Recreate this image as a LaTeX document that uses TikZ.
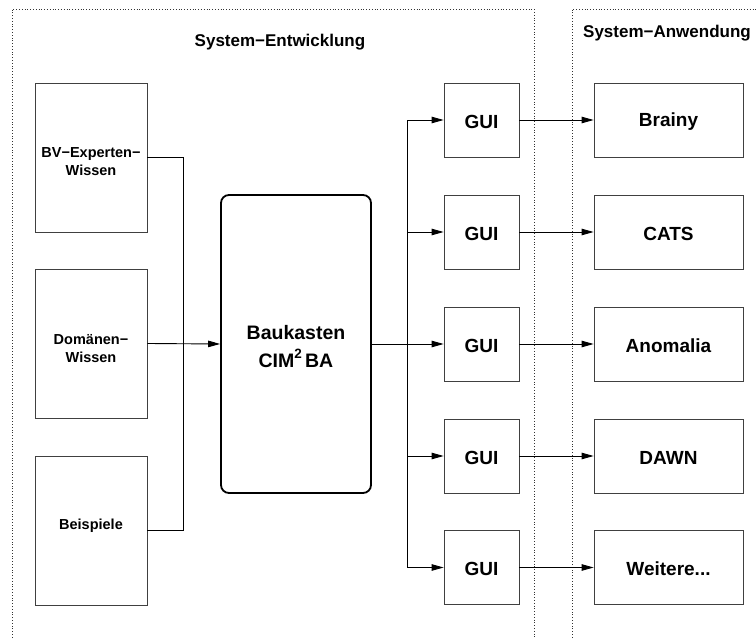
\documentclass[tikz,border=0pt]{standalone}
\usepackage{fontspec}
\setmainfont{Liberation Sans}
\usetikzlibrary{arrows.meta}
\newcommand{\furtherapps}{Weitere...}
\begin{document}
\begin{tikzpicture}[x=1pt,y=-1pt,
  every node/.style={font=\bfseries},
  frame/.style={draw=black!80,dotted,line width=0.8pt},
  srcbox/.style={draw=black!75,line width=0.8pt,minimum width=112pt,minimum height=149pt,
    align=center,inner sep=0pt,font=\bfseries\fontsize{14.5}{18}\selectfont},
  guibox/.style={draw=black!75,line width=0.8pt,minimum width=75pt,minimum height=74pt,
    inner sep=0pt,font=\bfseries\fontsize{19}{22}\selectfont},
  appbox/.style={draw=black!75,line width=0.8pt,minimum width=149pt,minimum height=74pt,
    inner sep=0pt,font=\bfseries\fontsize{19}{22}\selectfont},
  kitbox/.style={draw=black,line width=1.8pt,rounded corners=8pt,minimum width=150pt,
    minimum height=298pt,align=center,inner sep=0pt,font=\bfseries\fontsize{19.5}{28}\selectfont},
  title/.style={font=\bfseries\fontsize{17}{20}\selectfont},
  conn/.style={draw=black,line width=0.9pt},
  arr/.style={conn,-{Triangle[length=12pt,width=6.5pt]}}]
\useasboundingbox (0,0) rectangle (756,639);

% dotted frames of the two areas
\draw[frame] (12,660) -- (12,9) -- (534,9) -- (534,660);
\draw[frame] (572,660) -- (572,9) -- (780,9);
\node[title] (tdev) at (280,42) {System−Entwicklung};
\node[title] (tapp) at (667,33) {System−Anwendung};

% knowledge sources
\node[srcbox] (bv)  at (91,157.5) {};
\node[srcbox] (dom) at (91,343.5) {};
\node[srcbox] (bsp) at (91,530.5) {};
\node[align=center,font=\bfseries\fontsize{14.5}{18}\selectfont] (bvt) at (91,162) {BV−Experten−\\Wissen};
\node[align=center,font=\bfseries\fontsize{14.5}{18}\selectfont] (domt) at (91,348.5) {Domänen−\\Wissen};
\node[font=\bfseries\fontsize{14.5}{18}\selectfont] (bspt) at (91,525.5) {Beispiele};

% toolkit
\node[kitbox] (kit) at (296,344) {};
\node[align=center,font=\bfseries\fontsize{19.5}{28}\selectfont] (kitt) at (296,347)
  {Baukasten\\CIM\raisebox{0.5em}{\fontsize{13.5}{13.5}\selectfont 2}\,BA};

% GUIs and applications
\foreach \i/\y/\app in {1/120/Brainy,2/232/CATS,3/344/Anomalia,4/456/DAWN,5/567.5/\furtherapps}{
  \node[guibox] (gui\i) at (481.5,\y) {};
  \node[appbox] (app\i) at (668.5,\y) {};
  \node[font=\bfseries\fontsize{19}{22}\selectfont] (guit\i) at (481.5,\y+1.5) {GUI};
  \node[font=\bfseries\fontsize{19}{22}\selectfont] (appt\i) at (668.5,\y+1.5) {\app};
  \draw[arr] (gui\i.east) -- (app\i.west);
}

% collecting the sources
\coordinate (jin) at (183,344);
\draw[conn] (bv.east) -| (jin);
\draw[conn] (bsp.east) -| (jin);
\draw[arr] (dom.east) -- (kit.west);

% distributing to the GUIs
\coordinate (jout) at (407,344);
\draw[conn] (kit.east) -- (jout);
\foreach \i in {1,2,3,4,5}{
  \draw[arr] (jout) |- (gui\i.west);
}
\end{tikzpicture}
\end{document}
